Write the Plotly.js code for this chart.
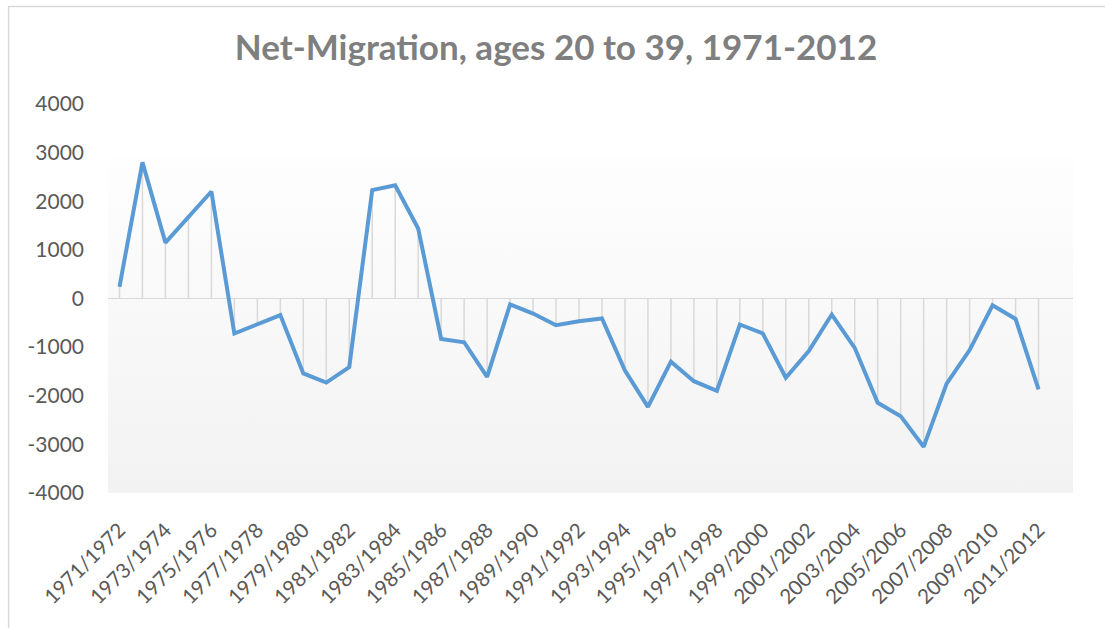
<!DOCTYPE html>
<html>
<head>
<meta charset="utf-8">
<script src="https://cdn.plot.ly/plotly-3.0.1.min.js"></script>
<style>html,body{margin:0;padding:0;background:#fff;}#chart{width:1105px;height:628px;}</style>
</head>
<body>
<div id="chart"></div>
<script>
const categories = [
  "1971/1972","1972/1973","1973/1974","1974/1975","1975/1976","1976/1977","1977/1978","1978/1979",
  "1979/1980","1980/1981","1981/1982","1982/1983","1983/1984","1984/1985","1985/1986","1986/1987",
  "1987/1988","1988/1989","1989/1990","1990/1991","1991/1992","1992/1993","1993/1994","1994/1995",
  "1995/1996","1996/1997","1997/1998","1998/1999","1999/2000","2000/2001","2001/2002","2002/2003",
  "2003/2004","2004/2005","2005/2006","2006/2007","2007/2008","2008/2009","2009/2010","2010/2011",
  "2011/2012"
];
const netMigration = [
  240, 2800, 1150, 1660, 2200, -720, -530, -340,
  -1540, -1730, -1410, 2230, 2330, 1440, -830, -900,
  -1610, -120, -310, -550, -470, -410, -1480, -2230,
  -1300, -1700, -1900, -535, -720, -1630, -1080, -330,
  -1015, -2145, -2420, -3050, -1750, -1060, -140, -420,
  -1870
];
const tickLabels = categories.filter((c, i) => i % 2 === 0);
const yTicks = [-4000, -3000, -2000, -1000, 0, 1000, 2000, 3000, 4000];

const W = 1105, H = 628;
const L = 107.5, R = 31.5, T = 104, B = 135;
const pw = W - L - R, ph = H - T - B;

const svg = "<svg xmlns='http://www.w3.org/2000/svg' width='10' height='100' preserveAspectRatio='none'><defs><linearGradient id='g' x1='0' y1='0' x2='0' y2='1'><stop offset='0' stop-color='#fefefe'/><stop offset='1' stop-color='#f2f2f2'/></linearGradient></defs><rect width='10' height='100' fill='url(#g)'/></svg>";
const gradSrc = "data:image/svg+xml;charset=utf-8," + encodeURIComponent(svg);

const trace = {
  x: categories,
  y: netMigration,
  type: "scatter",
  mode: "lines",
  line: {color: "#5b9bd5", width: 4},
  error_y: {
    type: "data",
    symmetric: false,
    array: netMigration.map(v => v < 0 ? -v : 0),
    arrayminus: netMigration.map(v => v > 0 ? v : 0),
    color: "#d9d9d9",
    thickness: 1.5,
    width: 0
  },
  hoverinfo: "x+y"
};

const font = "Lato, 'Open Sans', sans-serif";

const layout = {
  width: W, height: H,
  margin: {l: L, r: R, t: T, b: B, pad: 0},
  paper_bgcolor: "#ffffff",
  plot_bgcolor: "rgba(0,0,0,0)",
  showlegend: false,
  title: {
    text: "<b>Net-Migration, ages 20 to 39, 1971-2012</b>",
    font: {family: font, size: 35, color: "#7f7f7f"},
    x: 556 / W, xanchor: "center", xref: "container",
    y: 1 - 48 / H, yanchor: "middle", yref: "container"
  },
  xaxis: {
    type: "category",
    range: [-0.5, 41.5],
    tickmode: "array",
    tickvals: tickLabels,
    ticktext: tickLabels,
    tickangle: -45,
    tickfont: {family: font, size: 20.5, color: "#595959"},
    showgrid: false, zeroline: false, showline: false,
    ticks: "", ticklabelstandoff: 20,
    fixedrange: true
  },
  yaxis: {
    range: [-4000, 4000],
    tickmode: "array",
    tickvals: yTicks,
    ticktext: yTicks.map(String),
    tickfont: {family: font, size: 21, color: "#595959"},
    showgrid: false,
    zeroline: true, zerolinecolor: "#d9d9d9", zerolinewidth: 1.5,
    showline: false, ticks: "",
    ticklabelstandoff: 23,
    fixedrange: true
  },
  images: [{
    source: gradSrc,
    xref: "paper", yref: "y",
    x: 0, y: 2930, sizex: 1, sizey: 6930,
    sizing: "stretch", xanchor: "left", yanchor: "top",
    layer: "below", opacity: 1
  }],
  shapes: [{
    type: "rect", xref: "paper", yref: "paper",
    x0: (8 - L) / pw, x1: (W + 40 - L) / pw,
    y0: -(H + 40 - T - ph) / ph, y1: (T + ph - 6.5) / ph,
    line: {color: "#d9d9d9", width: 1.5},
    fillcolor: "rgba(0,0,0,0)", layer: "below"
  }]
};

Plotly.newPlot("chart", [trace], layout, {displayModeBar: false, staticPlot: true});
</script>
</body>
</html>
